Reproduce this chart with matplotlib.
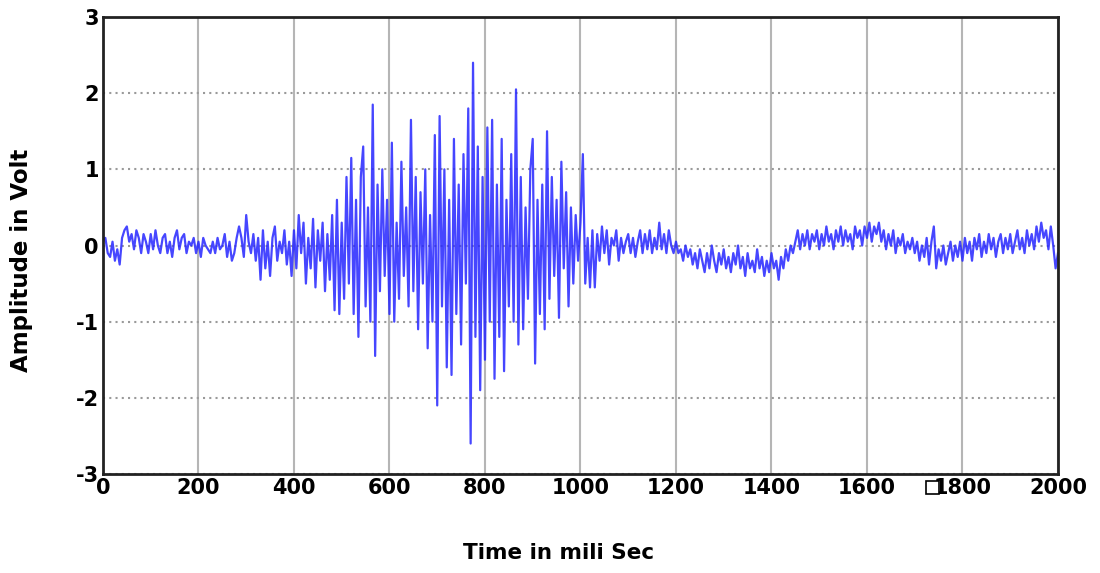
import numpy as np
import matplotlib
matplotlib.use("Agg")
import matplotlib.pyplot as plt
from matplotlib.patches import Rectangle

plt.rcParams["axes.unicode_minus"] = False

# Time axis: one sample every 5 ms, 0 .. 2000 ms
time_ms = np.arange(0, 2001, 5)

# Amplitude (V), 100 ms per row
amp_0000 = [0.05, 0.1, -0.1, -0.15, 0.05, -0.2, -0.05, -0.25, 0.1, 0.2, 0.25, 0.05, 0.15, -0.05, 0.2, 0.1, -0.1, 0.15, 0.05, -0.1]
amp_0100 = [0.15, -0.05, 0.2, 0.0, -0.1, 0.1, 0.15, -0.1, 0.05, -0.15, 0.1, 0.2, -0.05, 0.1, 0.15, -0.1, 0.05, 0.0, 0.1, -0.1]
amp_0200 = [0.05, -0.15, 0.1, 0.0, -0.05, -0.1, 0.05, -0.1, 0.1, -0.05, 0.0, 0.15, -0.15, 0.05, -0.2, -0.1, 0.1, 0.25, 0.1, -0.15]
amp_0300 = [0.4, 0.05, -0.1, 0.15, -0.2, 0.1, -0.45, 0.2, -0.3, 0.05, -0.4, 0.1, 0.25, -0.2, 0.05, -0.1, 0.2, -0.25, 0.05, -0.4]
amp_0400 = [0.2, -0.3, 0.4, -0.1, 0.3, -0.5, 0.1, -0.3, 0.35, -0.55, 0.2, -0.2, 0.3, -0.6, 0.15, -0.45, 0.4, -0.85, 0.6, -0.9]
amp_0500 = [0.3, -0.7, 0.9, -0.5, 1.15, -0.9, 0.6, -1.2, 0.9, 1.3, -0.8, 0.5, -1.0, 1.85, -1.45, 0.8, -0.6, 1.0, -0.4, 0.6]
amp_0600 = [-0.9, 1.35, -1.0, 0.3, -0.7, 1.1, -0.4, 0.5, -0.8, 1.65, -0.6, 0.9, -1.1, 0.7, -0.5, 1.0, -1.35, 0.4, -1.0, 1.45]
amp_0700 = [-2.1, 1.7, -0.8, 1.0, -1.6, 0.6, -1.7, 1.4, -0.9, 0.8, -1.3, 1.2, -0.5, 1.8, -2.6, 2.4, -1.2, 1.3, -1.9, 0.9]
amp_0800 = [-1.5, 1.55, -1.0, 1.65, -1.75, 0.8, -1.2, 1.4, -1.65, 0.6, -0.8, 1.2, -1.0, 2.05, -1.3, 0.9, -1.1, 0.5, -0.7, 1.0]
amp_0900 = [1.4, -1.55, 0.6, -0.9, 0.8, -1.1, 1.5, -0.7, 0.9, -0.4, 0.6, -0.95, 1.1, -0.3, 0.7, -0.8, 0.5, -0.5, 0.4, -0.2]
amp_1000 = [0.3, 1.2, -0.5, 0.1, -0.55, 0.2, -0.55, 0.15, -0.2, 0.25, -0.1, 0.2, -0.25, 0.1, 0.0, 0.2, -0.2, 0.1, -0.1, 0.05]
amp_1100 = [0.15, -0.1, 0.1, -0.15, 0.05, 0.2, -0.1, 0.15, -0.05, 0.2, -0.1, 0.1, -0.05, 0.3, -0.05, 0.15, -0.1, 0.2, 0.0, -0.1]
amp_1200 = [0.05, -0.1, -0.05, -0.2, 0.0, -0.15, -0.05, -0.25, -0.1, -0.3, -0.05, -0.2, -0.35, -0.1, -0.3, 0.0, -0.2, -0.35, -0.1, -0.25]
amp_1300 = [-0.05, -0.3, -0.15, -0.35, -0.1, -0.25, 0.0, -0.3, -0.15, -0.4, -0.1, -0.3, -0.2, -0.35, -0.05, -0.3, -0.15, -0.4, -0.2, -0.35]
amp_1400 = [-0.1, -0.3, -0.2, -0.45, -0.15, -0.3, -0.05, -0.2, 0.0, -0.1, 0.05, 0.2, -0.05, 0.15, 0.0, 0.2, -0.05, 0.15, 0.05, 0.2]
amp_1500 = [-0.05, 0.15, 0.0, 0.25, 0.05, 0.15, -0.05, 0.2, 0.05, 0.25, 0.0, 0.2, 0.05, 0.15, -0.05, 0.25, 0.1, 0.2, 0.0, 0.25]
amp_1600 = [0.1, 0.3, 0.05, 0.25, 0.15, 0.3, 0.05, 0.2, -0.05, 0.15, 0.0, 0.2, -0.1, 0.1, 0.0, 0.15, -0.1, 0.05, -0.05, 0.1]
amp_1700 = [-0.1, 0.05, -0.2, 0.0, -0.15, 0.1, -0.25, 0.05, 0.25, -0.3, -0.05, -0.2, 0.0, -0.25, -0.1, 0.05, -0.2, 0.0, -0.15, 0.05]
amp_1800 = [-0.2, 0.1, -0.1, 0.05, -0.2, 0.1, -0.05, 0.15, -0.15, 0.05, -0.1, 0.15, -0.05, 0.1, -0.15, 0.05, 0.15, -0.1, 0.1, -0.05]
amp_1900 = [0.15, -0.1, 0.05, 0.2, -0.05, 0.1, -0.1, 0.2, 0.0, 0.15, -0.05, 0.25, 0.05, 0.3, 0.1, 0.2, -0.05, 0.25, 0.0, -0.3, -0.1]

amplitude = (amp_0000 + amp_0100 + amp_0200 + amp_0300 + amp_0400 + amp_0500
             + amp_0600 + amp_0700 + amp_0800 + amp_0900 + amp_1000 + amp_1100
             + amp_1200 + amp_1300 + amp_1400 + amp_1500 + amp_1600 + amp_1700
             + amp_1800 + amp_1900)

x_ticks = [0, 200, 400, 600, 800, 1000, 1200, 1400, 1600, 1800, 2000]
y_ticks = [-3, -2, -1, 0, 1, 2, 3]

fig = plt.figure(figsize=(11, 5.73), dpi=100)
ax = fig.add_axes([0.0936, 0.1728, 0.8682, 0.7975])

ax.plot(time_ms, amplitude, color="#2626ff", lw=1.6, alpha=0.85)

ax.set_xlim(0, 2000)
ax.set_ylim(-3, 3)
ax.set_xticks(x_ticks)
ax.set_yticks(y_ticks)
ax.tick_params(length=0, labelsize=15, pad=3)
for lab in ax.get_xticklabels() + ax.get_yticklabels():
    lab.set_fontweight("bold")

# vertical grid solid, horizontal grid dotted
ax.grid(axis="x", color="#b5b5b5", lw=1.5, ls="-")
ax.grid(axis="y", color="#9a9a9a", lw=1.5, ls=(0, (1, 2)))
ax.set_axisbelow(True)

for s in ax.spines.values():
    s.set_color("#222222")
    s.set_linewidth(2)

fig.text(559 / 1100, 1 - 553 / 573, "Time in mili Sec", fontsize=15.5, fontweight="bold",
         ha="center", va="center")
fig.text(22 / 1100, 1 - 260 / 573, "Amplitude in Volt", fontsize=16.5, fontweight="bold",
         ha="center", va="center", rotation=90)

# small square marker next to the 1800 label
fig.patches.append(Rectangle((926 / 1100, 1 - 494 / 573), 13 / 1100, 13 / 573,
                             transform=fig.transFigure, facecolor="white",
                             edgecolor="black", lw=1.2))

fig.savefig("out.png", dpi=100)
